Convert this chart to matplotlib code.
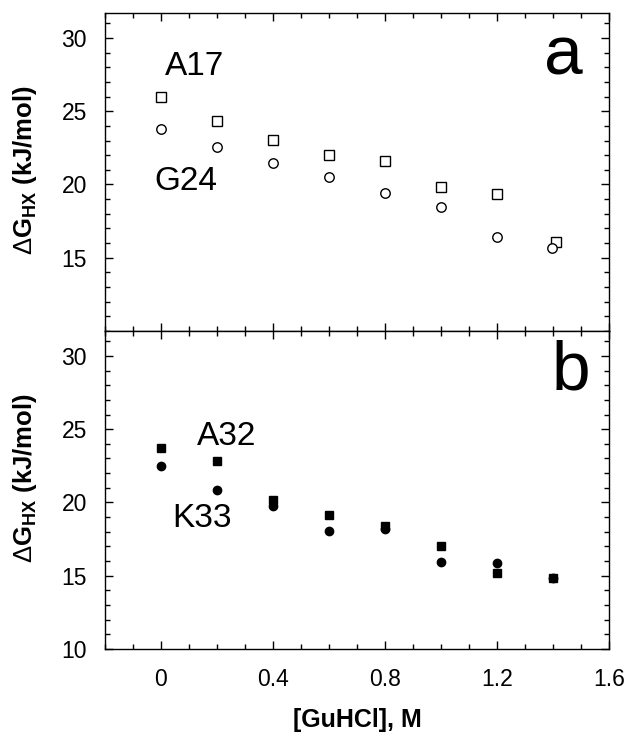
import matplotlib
matplotlib.use('Agg')
from matplotlib import pyplot as plt
from matplotlib.ticker import MultipleLocator, FixedLocator

plt.rcParams['font.family'] = ['Liberation Sans', 'DejaVu Sans']
plt.rcParams['mathtext.fontset'] = 'custom'
plt.rcParams['mathtext.rm'] = 'Liberation Sans'
plt.rcParams['mathtext.bf'] = 'Liberation Sans:bold'

# panel a
gu_a17 = [0, 0.2, 0.4, 0.6, 0.8, 1.0, 1.2, 1.41]
dg_a17 = [26.0, 24.34, 23.06, 22.03, 21.58, 19.82, 19.34, 16.1]
gu_g24 = [0, 0.2, 0.4, 0.6, 0.8, 1.0, 1.2, 1.395]
dg_g24 = [23.78, 22.59, 21.45, 20.53, 19.44, 18.48, 16.39, 15.64]

# panel b
gu_a32 = [0, 0.2, 0.4, 0.6, 0.8, 1.0, 1.2, 1.4]
dg_a32 = [23.73, 22.83, 20.18, 19.16, 18.41, 17.05, 15.2, 14.86]
gu_k33 = [0, 0.2, 0.4, 0.6, 0.8, 1.0, 1.2, 1.4]
dg_k33 = [22.46, 20.88, 19.73, 18.07, 18.19, 15.97, 15.88, 14.85]

fig = plt.figure(figsize=(6.29, 7.36), dpi=100)
ax1 = fig.add_axes([0.1669, 0.5503, 0.8013, 0.432])
ax2 = fig.add_axes([0.1669, 0.1182, 0.8013, 0.4321], sharex=ax1)

ax1.plot(gu_a17, dg_a17, ls='none', marker='s', ms=6.5, mfc='white', mec='black', mew=1.0)
ax1.plot(gu_g24, dg_g24, ls='none', marker='o', ms=6.8, mfc='white', mec='black', mew=1.0)
ax2.plot(gu_a32, dg_a32, ls='none', marker='s', ms=6.2, color='black')
ax2.plot(gu_k33, dg_k33, ls='none', marker='o', ms=6.0, color='black')

ylab = r'$\Delta\mathbf{G}_{\mathbf{HX}}$ (kJ/mol)'
for ax in (ax1, ax2):
    ax.set_xlim(-0.2, 1.6)
    ax.set_ylim(10, 31.7)
    ax.xaxis.set_major_locator(FixedLocator([0, 0.4, 0.8, 1.2, 1.6]))
    ax.xaxis.set_minor_locator(MultipleLocator(0.1))
    ax.yaxis.set_minor_locator(MultipleLocator(1))
    ax.tick_params(which='both', direction='in', top=True, right=True, width=1.0)
    ax.tick_params(which='major', length=6)
    ax.tick_params(which='minor', length=3.5)
    ax.tick_params(axis='y', labelsize=16.5, pad=13)
    ax.tick_params(axis='x', labelsize=16.5, pad=14)
    for s in ax.spines.values():
        s.set_linewidth(1.0)

ax1.set_yticks([15, 20, 25, 30])
ax2.set_yticks([10, 15, 20, 25, 30])
ax2.set_xticklabels(['0', '0.4', '0.8', '1.2', '1.6'])
ax1.tick_params(axis='x', labelbottom=False)

fig.text(0.040, 1 - 170 / 736, ylab, rotation=90, ha='center', va='center', fontsize=18.5, fontweight='bold')
fig.text(0.040, 1 - 478 / 736, ylab, rotation=90, ha='center', va='center', fontsize=18.5, fontweight='bold')
ax2.set_xlabel('[GuHCl], M', fontsize=18, fontweight='bold', labelpad=12)

ax1.text(1.436, 27.49, 'a', fontsize=50, ha='center', va='baseline')
ax2.text(1.464, 27.69, 'b', fontsize=50, ha='center', va='baseline')
ax1.text(0.121, 27.49, 'A17', fontsize=24, ha='center', va='baseline')
ax1.text(0.089, 19.62, 'G24', fontsize=24, ha='center', va='baseline')
ax2.text(0.236, 23.89, 'A32', fontsize=24, ha='center', va='baseline')
ax2.text(0.146, 18.32, 'K33', fontsize=24, ha='center', va='baseline')

fig.savefig('out.png', dpi=100)
